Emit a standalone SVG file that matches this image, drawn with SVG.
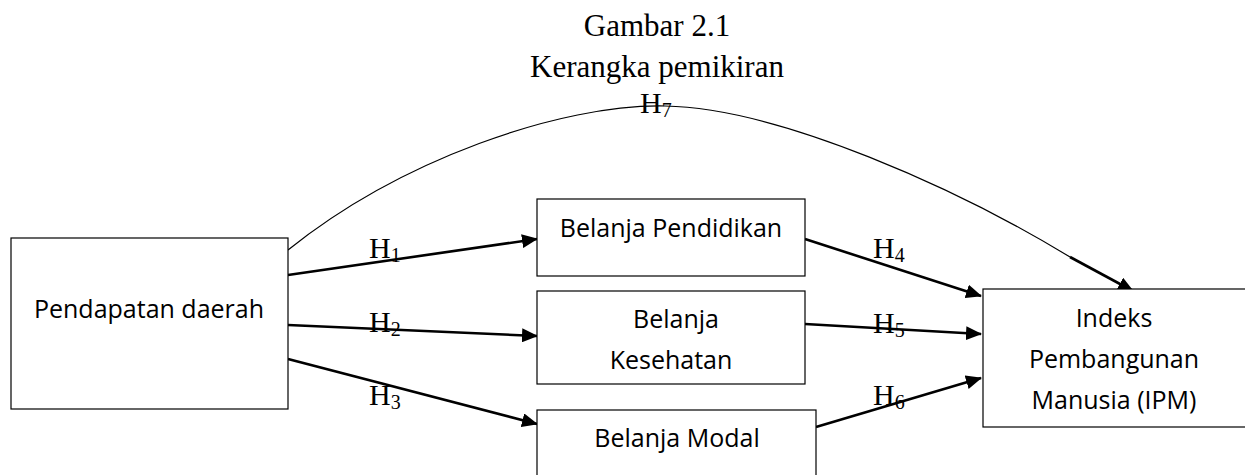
<svg xmlns="http://www.w3.org/2000/svg" width="1245" height="475" viewBox="0 0 1245 475">
<style>
.box{fill:#fff;stroke:#000;stroke-width:1.2}
.lbl{font-family:"Open Sans","Noto Sans",sans-serif;font-size:25px;fill:#000;text-anchor:middle}
.ser{font-family:"Liberation Serif","Times New Roman",serif;font-size:30px;fill:#000}
.ttl{font-size:31px}
.sub{font-size:20px}
.arr{fill:none;stroke:#000;stroke-width:2.6;marker-end:url(#ah)}
.thin{fill:none;stroke:#000;stroke-width:1.2}
</style>
<defs>
<marker id="ah" markerUnits="userSpaceOnUse" markerWidth="16" markerHeight="14" refX="15" refY="7" orient="auto">
<path d="M0,0 L16,7 L0,14 z" fill="#000"/>
</marker>
</defs>
<rect width="1245" height="475" fill="#fff"/>
<g id="title">
<text class="ser ttl" x="657" y="36" text-anchor="middle">Gambar 2.1</text>
<text class="ser ttl" x="657" y="77" text-anchor="middle">Kerangka pemikiran</text>
</g>
<g id="connectors">
<path class="thin" d="M288,250 C400,160 560,104 665,106 C780,108 960,190 1070,257"/>
<path class="arr" d="M1070,257 L1133,291"/>
<path class="arr" d="M288,275 L537,239"/>
<path class="arr" d="M288,325 L537,336"/>
<path class="arr" d="M288,359 L537,424"/>
<path class="arr" d="M805,239 L981,296"/>
<path class="arr" d="M805,324 L981,334"/>
<path class="arr" d="M816,427 L981,378"/>
</g>
<g id="labels">
<text class="ser" x="640" y="113">H<tspan class="sub" dy="4">7</tspan></text>
<text class="ser" x="369" y="258">H<tspan class="sub" dy="4">1</tspan></text>
<text class="ser" x="369" y="332">H<tspan class="sub" dy="4">2</tspan></text>
<text class="ser" x="369" y="405">H<tspan class="sub" dy="4">3</tspan></text>
<text class="ser" x="873" y="258">H<tspan class="sub" dy="4">4</tspan></text>
<text class="ser" x="873" y="333">H<tspan class="sub" dy="4">5</tspan></text>
<text class="ser" x="873" y="405">H<tspan class="sub" dy="4">6</tspan></text>
</g>
<g id="pendapatan">
<rect class="box" x="11" y="238" width="277" height="171"/>
<text class="lbl" x="149" y="318">Pendapatan daerah</text>
</g>
<g id="pendidikan">
<rect class="box" x="537" y="199" width="268" height="77"/>
<text class="lbl" x="671" y="237">Belanja Pendidikan</text>
</g>
<g id="kesehatan">
<rect class="box" x="537" y="291" width="268" height="93"/>
<text class="lbl" x="676" y="328">Belanja</text>
<text class="lbl" x="671" y="369">Kesehatan</text>
</g>
<g id="modal">
<rect class="box" x="537" y="410" width="279" height="80"/>
<text class="lbl" x="677" y="447">Belanja Modal</text>
</g>
<g id="ipm">
<rect class="box" x="983" y="289" width="280" height="138"/>
<text class="lbl" x="1114" y="327">Indeks</text>
<text class="lbl" x="1114" y="368">Pembangunan</text>
<text class="lbl" x="1114" y="409">Manusia (IPM)</text>
</g>
</svg>
